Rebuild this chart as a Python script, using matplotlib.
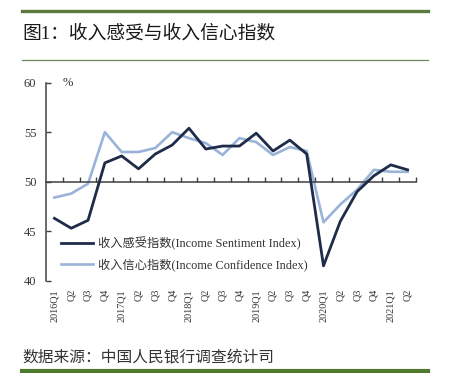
import matplotlib
matplotlib.use("Agg")
import matplotlib.pyplot as plt
from matplotlib.lines import Line2D
import numpy as np

# =====================================================
# DATA
# =====================================================

quarters = ["2016Q1", "Q2", "Q3", "Q4",
            "2017Q1", "Q2", "Q3", "Q4",
            "2018Q1", "Q2", "Q3", "Q4",
            "2019Q1", "Q2", "Q3", "Q4",
            "2020Q1", "Q2", "Q3", "Q4",
            "2021Q1", "Q2"]

sentiment = [46.3, 45.3, 46.1, 51.9, 52.6, 51.3, 52.8, 53.7, 55.4, 53.3, 53.6,
             53.6, 54.9, 53.1, 54.2, 52.8, 41.5, 46.0, 49.0, 50.6, 51.7, 51.2]

confidence = [48.4, 48.8, 49.8, 55.0, 53.0, 53.0, 53.4, 55.0, 54.4, 53.9, 52.7,
              54.4, 54.0, 52.7, 53.5, 53.1, 45.9, 47.7, 49.2, 51.2, 51.0, 51.0]

yticks = [40, 45, 50, 55, 60]

title = "图1：收入感受与收入信心指数"
source = "数据来源：中国人民银行调查统计司"
label_sent = "收入感受指数(Income Sentiment Index)"
label_conf = "收入信心指数(Income Confidence Index)"

FONTS = ["Liberation Serif", "Noto Sans CJK SC"]
CJK = ["Noto Sans CJK SC", "DejaVu Sans"]

# =====================================================
# FIGURE
# =====================================================

W, H = 452, 373
fig = plt.figure(figsize=(W / 100, H / 100), dpi=100)

ax = fig.add_axes([46 / W, 1 - 280.7 / H, 370 / W, 198 / H])

x = np.arange(len(quarters))

ax.plot(x, sentiment, color="#1e2b49", lw=2.0, label=label_sent, zorder=3)
ax.plot(x, confidence, color="#9ab3d8", lw=1.9, label=label_conf, zorder=2)

ax.set_xlim(-0.5, len(quarters) - 0.5)
ax.set_ylim(40, 60)

# spines
for s in ["top", "right"]:
    ax.spines[s].set_visible(False)
ax.spines["left"].set_color("#404040")
ax.spines["left"].set_linewidth(1.1)
ax.spines["bottom"].set_position(("data", 50))
ax.spines["bottom"].set_color("#404040")
ax.spines["bottom"].set_linewidth(1.1)

# x ticks on the 50 line, between categories
ax.set_xticks(np.arange(len(quarters)) + 0.5)
ax.tick_params(axis="x", direction="in", length=3.5, width=1.0,
               color="#404040", labelbottom=False)

# y ticks
ax.set_yticks(yticks)
ax.set_yticklabels([str(v) for v in yticks], family=FONTS, fontsize=9,
                   color="#333333")
ax.tick_params(axis="y", direction="in", length=3.5, width=1.0,
               color="#404040", pad=7)

# quarter labels at the bottom
sec = ax.secondary_xaxis("bottom")
sec.set_xticks(x)
sec.set_xticklabels(quarters, rotation=90, family=FONTS, fontsize=7.3,
                    color="#333333", va="top")
sec.tick_params(axis="x", length=0, pad=6)
sec.spines["bottom"].set_visible(False)

ax.text(0.045, 1.0, "%", transform=ax.transAxes, fontsize=9,
        family=FONTS, color="#333333", va="center", ha="left")

leg = ax.legend(loc="center left", bbox_to_anchor=(0.04, 0.136),
                frameon=False, borderpad=0, borderaxespad=0,
                handlelength=2.6, handletextpad=0.45, labelspacing=0.7,
                prop={"family": FONTS, "size": 8.8})
for t in leg.get_texts():
    t.set_color("#333333")

# =====================================================
# TITLE / SOURCE DECORATION
# =====================================================

x0, x1 = 22 / W, 428 / W
fig.add_artist(Line2D([x0, x1], [1 - 10.7 / H] * 2, color="#5c7a3e", lw=2.4))
fig.add_artist(Line2D([x0, x1], [1 - 60 / H] * 2, color="#6e8758", lw=0.9))
fig.add_artist(Line2D([x0, x1], [1 - 371 / H] * 2, color="#4f7a2e", lw=3.0))

fig.text(x0, 1 - 34 / H, title, fontsize=13.5, family=FONTS,
         color="#1a1a1a", va="center", ha="left")
fig.text(x0, 1 - 357 / H, source, fontsize=11.3, family=CJK,
         color="#333333", va="center", ha="left")

fig.savefig("out.png", dpi=100)
plt.close(fig)
